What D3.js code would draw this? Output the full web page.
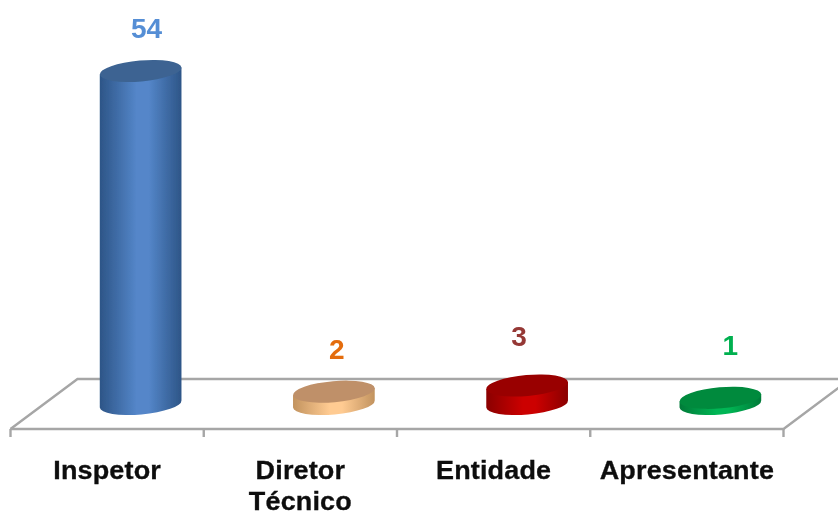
<!DOCTYPE html>
<html><head><meta charset="utf-8">
<script src="https://cdn.jsdelivr.net/npm/d3@7"></script>
<style>html,body{margin:0;background:#fff}svg{display:block}</style></head>
<body><svg id="c" width="838" height="511"></svg>
<script>
const categories = ["Inspetor", "Diretor Técnico", "Entidade", "Apresentante"];
const values = [54, 2, 3, 1];
const labelColors = ["#558ed5", "#e46c0a", "#953735", "#00b050"];
const sideEdge = ["#2d5587", "#c2935f", "#8a0000", "#007a38"];
const sideMid = ["#5486c9", "#ffcb92", "#cc0000", "#00b654"];
const capColors = ["#3c6492", "#bf9069", "#990000", "#008a3e"];

const svg = d3.select("#c");
const W = 838, H = 511;
const floorFront = 429, floorBack = 379, depth = 67, baseY = 404;
const x = d3.scaleBand().domain(categories).range([10.5, 783.5]);
const y = d3.scaleLinear().domain([0, 54]).range([baseY, 71]);
const font = "'Liberation Sans', Arial, sans-serif";
const rx = 41, ry = 10.5, rot = -5;
const dx = rx * Math.cos(rot * Math.PI / 180), dy = rx * Math.sin(rot * Math.PI / 180);
const lineCol = "#a6a6a6";

const defs = svg.append("defs");
defs.append("filter").attr("id", "soft").attr("x", "-10%").attr("y", "-10%").attr("width", "120%").attr("height", "120%")
  .append("feGaussianBlur").attr("stdDeviation", 0.55);
categories.forEach((c, i) => {
  const g = defs.append("linearGradient").attr("id", "g" + i);
  g.append("stop").attr("offset", "0%").attr("stop-color", sideEdge[i]);
  g.append("stop").attr("offset", "45%").attr("stop-color", sideMid[i]);
  g.append("stop").attr("offset", "60%").attr("stop-color", sideMid[i]);
  g.append("stop").attr("offset", "100%").attr("stop-color", sideEdge[i]);
});

// floor
const floor = svg.append("g").attr("filter", "url(#soft)");
const xL = x.range()[0], xR = x.range()[1];
floor.append("path")
  .attr("d", `M${xL},${floorFront}L${xL + depth},${floorBack}L${W + 5},${floorBack}`)
  .attr("fill", "none").attr("stroke", lineCol).attr("stroke-width", 2.4);
floor.append("path")
  .attr("d", `M${xL},${floorFront}L${xR},${floorFront}L${xR + depth},${floorBack}`)
  .attr("fill", "none").attr("stroke", lineCol).attr("stroke-width", 2.4);
const edges = categories.map(c => x(c)).concat([xR]);
floor.selectAll("line.t").data(edges).join("line").attr("class", "t")
  .attr("x1", d => d).attr("x2", d => d).attr("y1", floorFront).attr("y2", floorFront + 8)
  .attr("stroke", lineCol).attr("stroke-width", 2.4);

// cylinders
const bars = svg.append("g").attr("filter", "url(#soft)");
categories.forEach((c, i) => {
  const cx = x(c) + x.bandwidth() / 2 + depth / 2;
  const top = y(values[i]), bot = y(0);
  const lx = cx - dx, rxx = cx + dx;
  bars.append("path")
    .attr("d", `M${lx},${top - dy}L${lx},${bot - dy}A${rx},${ry} ${rot} 0 0 ${rxx},${bot + dy}L${rxx},${top + dy}Z`)
    .attr("fill", `url(#g${i})`);
  bars.append("ellipse")
    .attr("rx", rx).attr("ry", ry)
    .attr("transform", `translate(${cx},${top}) rotate(${rot})`)
    .attr("fill", capColors[i]);
});

// value labels
const nudgeX = [6, 3, -8, 10], nudgeY = [33, 33, 40, 43];
svg.append("g").attr("filter", "url(#soft)").selectAll("text").data(values).join("text")
  .attr("x", (d, i) => x(categories[i]) + x.bandwidth() / 2 + depth / 2 + nudgeX[i])
  .attr("y", (d, i) => y(d) - nudgeY[i])
  .attr("text-anchor", "middle")
  .attr("font-family", font).attr("font-weight", "bold").attr("font-size", 28)
  .attr("fill", (d, i) => labelColors[i])
  .text(d => d);

// category axis
const axis = svg.append("g").attr("transform", `translate(0,${floorFront})`)
  .call(d3.axisBottom(x).tickSize(0).tickFormat(() => ""));
axis.select(".domain").remove();
const tickText = axis.selectAll(".tick text")
  .attr("y", 0).attr("dy", 0)
  .attr("font-family", font).attr("font-weight", "bold").attr("font-size", 25)
  .attr("letter-spacing", 0.15)
  .attr("fill", "#0d0d0d").attr("stroke", "#0d0d0d").attr("stroke-width", 0.3)
  .attr("transform", "scale(1.08,1)").attr("filter", "url(#soft)");
tickText.each(function (d) {
  const words = d.split(" ");
  d3.select(this).selectAll("tspan").data(words).join("tspan")
    .attr("x", 0).attr("y", (w, j) => 50 + j * 31).text(w => w);
});
</script></body></html>
